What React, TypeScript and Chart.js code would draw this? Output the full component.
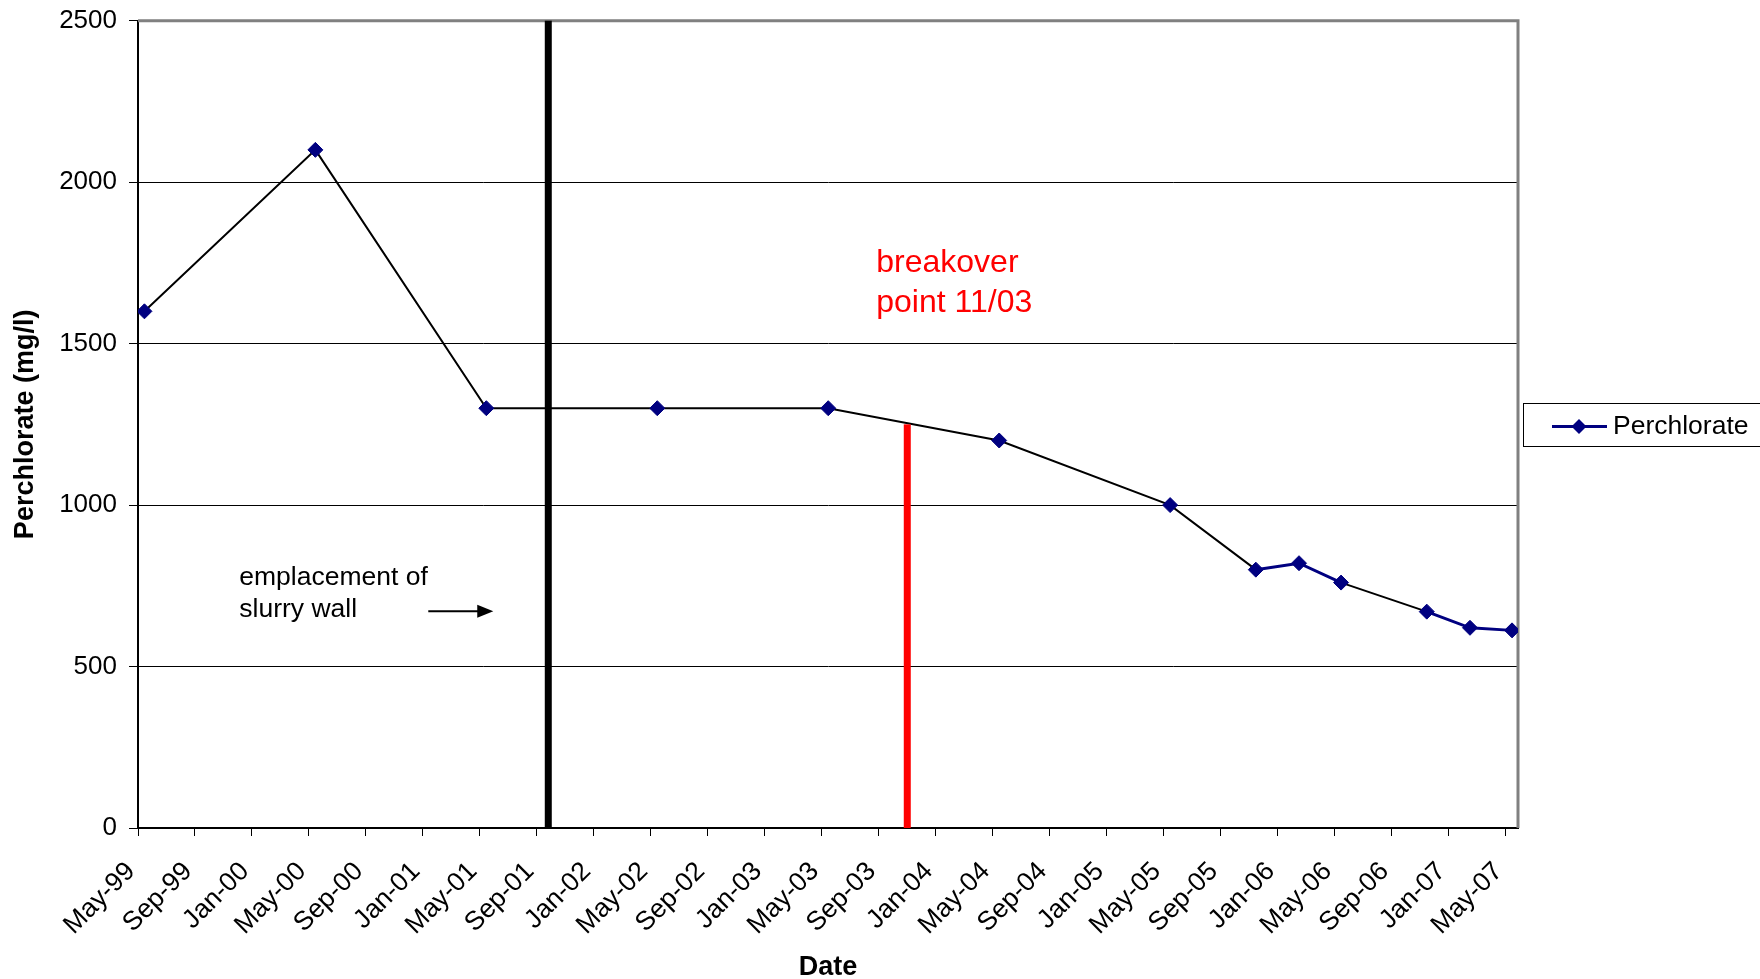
import { useEffect, useRef } from 'react';
import { Chart, registerables } from 'chart.js';

Chart.register(...registerables);

// ---- Data ----
const sampleDates = [
  '1999-05-15', '2000-05-15', '2001-05-15', '2002-05-15', '2003-05-15',
  '2004-05-15', '2005-05-15', '2005-11-15', '2006-02-15', '2006-05-15',
  '2006-11-15', '2007-02-15', '2007-05-15',
];
const perchlorateMgL = [1600, 2100, 1300, 1300, 1300, 1200, 1000, 800, 820, 760, 670, 620, 612];

const xTickLabels = [
  'May-99', 'Sep-99', 'Jan-00', 'May-00', 'Sep-00', 'Jan-01', 'May-01', 'Sep-01',
  'Jan-02', 'May-02', 'Sep-02', 'Jan-03', 'May-03', 'Sep-03', 'Jan-04', 'May-04',
  'Sep-04', 'Jan-05', 'May-05', 'Sep-05', 'Jan-06', 'May-06', 'Sep-06', 'Jan-07', 'May-07',
];
const yTickValues = [0, 500, 1000, 1500, 2000, 2500];

const axisStartDate = '1999-05-01';
const axisEndDate = '2007-05-28';
const slurryWallDate = '2001-09-25';
const breakoverDate = '2003-11-01';
const breakoverLevel = 1250;

const seriesName = 'Perchlorate';
const breakoverText = ['breakover', 'point 11/03'];
const slurryText = ['emplacement of', 'slurry wall'];

// ---- helpers ----
const MONTHS = ['Jan', 'Feb', 'Mar', 'Apr', 'May', 'Jun', 'Jul', 'Aug', 'Sep', 'Oct', 'Nov', 'Dec'];
const FONT = '"Liberation Sans", Arial, sans-serif';

function monthsSinceStart(iso: string): number {
  const [y, m, d] = iso.split('-').map(Number);
  const [y0, m0] = axisStartDate.split('-').map(Number);
  const dim = new Date(y, m, 0).getDate();
  return (y - y0) * 12 + (m - m0) + (d - 1) / dim;
}
function labelToIso(label: string): string {
  const [mon, yy] = label.split('-');
  const m = MONTHS.indexOf(mon) + 1;
  const n = Number(yy);
  const y = n < 50 ? 2000 + n : 1900 + n;
  return `${y}-${String(m).padStart(2, '0')}-01`;
}

const NAVY = '#000080';

const annotationPlugin = {
  id: 'annotations',
  beforeDatasetsDraw(chart: any) {
    const { ctx, chartArea: a } = chart;
    ctx.save();
    ctx.strokeStyle = '#808080';
    ctx.lineWidth = 3;
    ctx.beginPath();
    ctx.moveTo(a.left, a.top);
    ctx.lineTo(a.right, a.top);
    ctx.lineTo(a.right, a.bottom);
    ctx.stroke();
    ctx.restore();
  },
  afterDatasetsDraw(chart: any) {
    const { ctx } = chart;
    const xs = chart.scales.x;
    const ys = chart.scales.y;
    ctx.save();
    const wx = xs.getPixelForValue(monthsSinceStart(slurryWallDate));
    const y0 = ys.getPixelForValue(0);
    const yTop = ys.getPixelForValue(yTickValues[yTickValues.length - 1]);
    ctx.fillStyle = '#000000';
    ctx.fillRect(wx - 3.5, yTop, 7, y0 - yTop);
    const bx = xs.getPixelForValue(monthsSinceStart(breakoverDate));
    const by = ys.getPixelForValue(breakoverLevel);
    ctx.fillStyle = '#ff0000';
    ctx.fillRect(bx - 3.5, by, 7, y0 - by);
    ctx.restore();
  },
  afterDraw(chart: any) {
    const { ctx, chartArea: a } = chart;
    const xs = chart.scales.x;
    const ys = chart.scales.y;
    const wx = xs.getPixelForValue(monthsSinceStart(slurryWallDate));
    const bx = xs.getPixelForValue(monthsSinceStart(breakoverDate));
    ctx.save();
    ctx.textBaseline = 'alphabetic';
    ctx.textAlign = 'left';

    ctx.fillStyle = '#ff0000';
    ctx.font = `32px ${FONT}`;
    const bY = ys.getPixelForValue(1723);
    breakoverText.forEach((t, i) => ctx.fillText(t, bx - 31, bY + i * 40));

    ctx.fillStyle = '#000000';
    ctx.font = `26.5px ${FONT}`;
    const sY = ys.getPixelForValue(752);
    slurryText.forEach((t, i) => ctx.fillText(t, wx - 309, sY + i * 32));

    const ay = sY + 26;
    const ax0 = wx - 120;
    const ax1 = wx - 55;
    ctx.strokeStyle = '#000000';
    ctx.lineWidth = 2;
    ctx.beginPath();
    ctx.moveTo(ax0, ay);
    ctx.lineTo(ax1 - 12, ay);
    ctx.stroke();
    ctx.beginPath();
    ctx.moveTo(ax1, ay);
    ctx.lineTo(ax1 - 16, ay - 6.5);
    ctx.lineTo(ax1 - 16, ay + 6.5);
    ctx.closePath();
    ctx.fill();

    const lx = a.right + 5;
    const ly = 426.5;
    ctx.strokeStyle = '#000000';
    ctx.lineWidth = 1;
    ctx.strokeRect(Math.round(lx) + 0.5, 403.5, 400, 43);
    ctx.strokeStyle = NAVY;
    ctx.lineWidth = 3;
    ctx.beginPath();
    ctx.moveTo(lx + 29, ly);
    ctx.lineTo(lx + 84, ly);
    ctx.stroke();
    ctx.fillStyle = NAVY;
    ctx.beginPath();
    const dx = lx + 56;
    ctx.moveTo(dx - 7.5, ly);
    ctx.lineTo(dx, ly - 7.5);
    ctx.lineTo(dx + 7.5, ly);
    ctx.lineTo(dx, ly + 7.5);
    ctx.closePath();
    ctx.fill();
    ctx.fillStyle = '#000000';
    ctx.font = `26.5px ${FONT}`;
    ctx.textBaseline = 'middle';
    ctx.fillText(seriesName, lx + 90, ly);
    ctx.restore();
  },
};

export default function App() {
  const canvasRef = useRef<HTMLCanvasElement | null>(null);

  useEffect(() => {
    const canvas = canvasRef.current;
    if (!canvas) return;
    const points = sampleDates.map((d, i) => ({ x: monthsSinceStart(d), y: perchlorateMgL[i] }));
    const xTickValues = xTickLabels.map((l) => monthsSinceStart(labelToIso(l)));

    const chart = new Chart(canvas, {
      type: 'line',
      data: {
        datasets: [
          {
            label: seriesName,
            data: points,
            borderColor: NAVY,
            backgroundColor: NAVY,
            borderWidth: 3,
            pointStyle: 'rectRot',
            pointRadius: 7.5,
            pointBorderWidth: 1,
            pointBackgroundColor: NAVY,
            pointBorderColor: NAVY,
            tension: 0,
            segment: {
              borderColor: (c: any) => (c.p1.parsed.x - c.p0.parsed.x > 3.5 ? '#000000' : NAVY),
              borderWidth: (c: any) => (c.p1.parsed.x - c.p0.parsed.x > 3.5 ? 2 : 3),
            },
          },
        ],
      },
      options: {
        animation: false,
        responsive: false,
        devicePixelRatio: 1,
        layout: { padding: { left: 0, top: 20.7, right: 242, bottom: 0 } },
        plugins: {
          legend: { display: false },
          tooltip: { enabled: false },
        },
        scales: {
          x: {
            type: 'linear',
            min: 0,
            max: monthsSinceStart(axisEndDate),
            offset: false,
            afterFit: (s: any) => {
              s.height = 151;
            },
            afterBuildTicks: (s: any) => {
              s.ticks = xTickValues.map((v) => ({ value: v }));
            },
            ticks: {
              autoSkip: false,
              maxRotation: 45,
              minRotation: 45,
              padding: 20,
              labelOffset: -7,
              color: '#000000',
              font: { family: FONT, size: 26.5 },
              callback: (_v: any, i: number) => xTickLabels[i],
            },
            grid: {
              drawOnChartArea: false,
              drawTicks: true,
              tickLength: 8,
              tickColor: '#000000',
              lineWidth: 1,
            },
            border: { display: true, color: '#000000', width: 2 },
            title: {
              display: true,
              text: 'Date',
              color: '#000000',
              font: { family: FONT, size: 27, weight: 'bold', lineHeight: 0.8 },
              padding: { top: 0, bottom: 0.2 },
            },
          },
          y: {
            type: 'linear',
            min: yTickValues[0],
            max: yTickValues[yTickValues.length - 1],
            afterFit: (s: any) => {
              s.width = 138;
            },
            afterBuildTicks: (s: any) => {
              s.ticks = yTickValues.map((v) => ({ value: v }));
            },
            ticks: {
              padding: 12,
              color: '#000000',
              font: { family: FONT, size: 26, lineHeight: 0.4 },
              callback: (v: any) => String(v),
            },
            grid: {
              color: '#000000',
              lineWidth: 1,
              tickLength: 9,
              tickColor: '#000000',
            },
            border: { display: true, color: '#000000', width: 2 },
            title: {
              display: true,
              text: 'Perchlorate (mg/l)',
              color: '#000000',
              font: { family: FONT, size: 27, weight: 'bold', lineHeight: 1 },
              padding: { top: 12.5, bottom: 0 },
            },
          },
        },
      } as any,
      plugins: [annotationPlugin],
    });
    return () => chart.destroy();
  }, []);

  return (
    <div style={{ position: 'fixed', left: 0, top: 0, width: 1760, height: 979, background: '#ffffff' }}>
      <canvas ref={canvasRef} width={1760} height={979} style={{ display: 'block', width: 1760, height: 979 }} />
    </div>
  );
}
